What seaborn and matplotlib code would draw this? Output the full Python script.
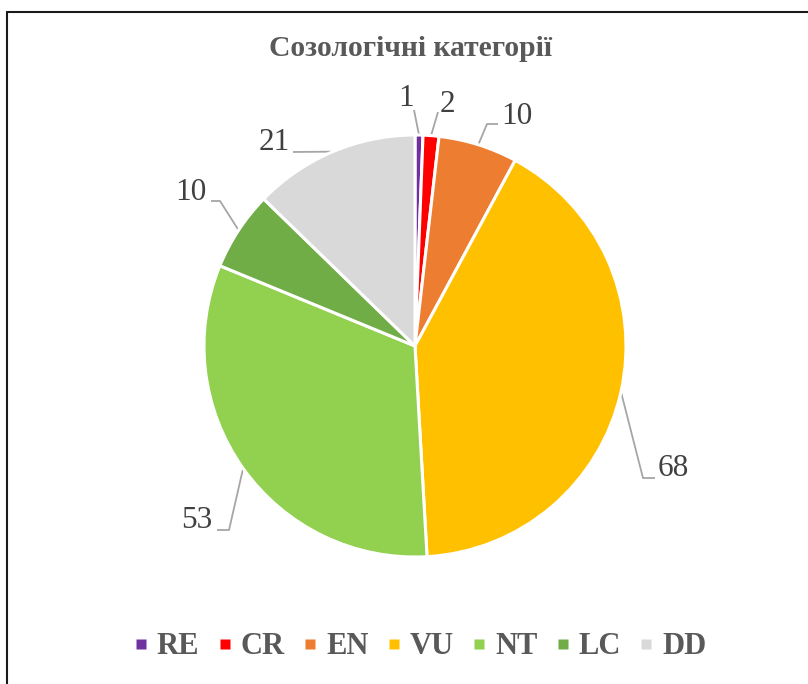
import matplotlib
matplotlib.use("Agg")
import matplotlib.pyplot as plt
import seaborn as sns
import numpy as np
from matplotlib.lines import Line2D

categories = ["RE", "CR", "EN", "VU", "NT", "LC", "DD"]
values = [1, 2, 10, 68, 53, 10, 21]
colors = ["#7030A0", "#FF0000", "#ED7D31", "#FFC000", "#92D050", "#70AD47", "#D9D9D9"]
title = "Созологічні категорії"

sns.set_theme(style="white")
plt.rcParams["font.family"] = ["Liberation Serif", "DejaVu Serif"]

W, H = 808, 684
fig = plt.figure(figsize=(W / 100, H / 100), dpi=100)
ax = fig.add_axes([0, 0, 1, 1])

cx, cy, R = 415, H - 346, 211
wedges, _ = ax.pie(values, colors=colors, startangle=90, counterclock=False,
                   center=(cx, cy), radius=R, frame=True,
                   wedgeprops=dict(edgecolor="white", linewidth=2.2))
ax.set_xlim(0, W)
ax.set_ylim(0, H)
ax.set_aspect("equal")
ax.axis("off")

# label layout (pixel coords from top): text center, leader points after anchor
layout = [
    ((406, 98), [(414, 110)]),
    ((447, 104), [(438, 112)]),
    ((517, 116), [(487, 124), (498, 124)]),
    ((673, 468), [(643, 478), (655, 478)]),
    ((197, 521), [(229, 530), (217, 530)]),
    ((191, 193), [(220, 201), (211, 201)]),
    ((274, 143), [(293, 152)]),
]
for w, v, ((tx, ty), pts) in zip(wedges, values, layout):
    mid = np.deg2rad((w.theta1 + w.theta2) / 2)
    ax_ = cx + R * np.cos(mid)
    ay_ = cy + R * np.sin(mid)
    xs = [ax_] + [p[0] for p in pts]
    ys = [ay_] + [H - p[1] for p in pts]
    ax.plot(xs, ys, color="#A6A6A6", lw=1.3, solid_capstyle="butt", zorder=0.5)
    ax.text(tx, H - ty, str(v), ha="center", va="center", fontsize=22.5, color="#404040")

fig.text(411 / W, 1 - 48 / H, title, ha="center", va="center", fontsize=21.3,
         fontweight="bold", color="#595959")

handles = [Line2D([], [], marker="s", linestyle="none", markersize=6.8,
                  markerfacecolor=c, markeredgecolor="none") for c in colors]
fig.legend(handles, categories, loc="center", bbox_to_anchor=(421 / W, 1 - 647 / H),
           ncol=7, frameon=False, handlelength=0.35,
           handletextpad=0.35, columnspacing=0.65,
           prop=dict(family="Liberation Serif", weight="bold", size=22),
           labelcolor="#595959")

# border lines
fig.add_artist(Line2D([7 / W, 7 / W], [0, 1 - 12 / H], transform=fig.transFigure,
                      color="#1a1a1a", lw=1.5))
fig.add_artist(Line2D([7 / W, 1], [1 - 12 / H, 1 - 12 / H], transform=fig.transFigure,
                      color="#1a1a1a", lw=1.5))

fig.savefig("out.png", dpi=100, facecolor="white")
